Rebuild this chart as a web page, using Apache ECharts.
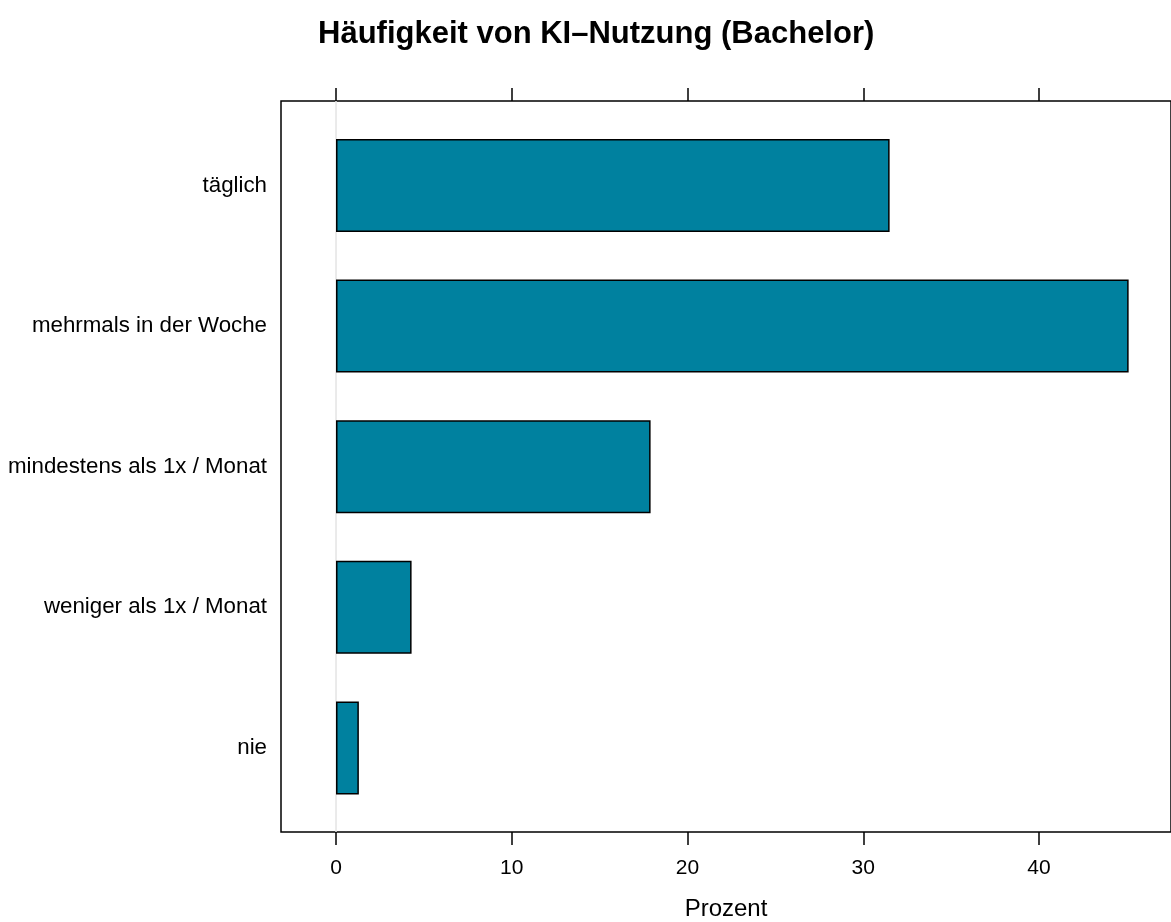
<!DOCTYPE html>
<html>
<head>
<meta charset="utf-8">
<script src="https://cdn.jsdelivr.net/npm/echarts@6/dist/echarts.min.js"></script>
<style>
  html, body { margin: 0; padding: 0; background: #fff; }
  #chart { width: 1171px; height: 922px; }
</style>
</head>
<body>
<div id="chart"></div>
<script>
// Häufigkeit von KI-Nutzung (Bachelor), Angaben in Prozent
const categories = ['täglich', 'mehrmals in der Woche', 'mindestens als 1x / Monat', 'weniger als 1x / Monat', 'nie']
const prozent = [31.5, 45.1, 17.9, 4.3, 1.3]
const xTicks = [0, 10, 20, 30, 40]
const xMin = -3.13
const xMax = 47.51

const font = 'Liberation Sans, Arial, Helvetica, sans-serif'
const chart = echarts.init(document.getElementById('chart'), null, { renderer: 'canvas' })

const option = {
  animation: false,
  backgroundColor: '#fff',
  title: {
    text: 'Häufigkeit von KI–Nutzung (Bachelor)',
    left: 313,
    top: 14,
    textStyle: { fontFamily: font, fontSize: 31, fontWeight: 'bold', color: '#000' }
  },
  grid: [
    // Rahmen mit Achsen
    { left: 281, right: 0, top: 101, height: 731, outerBoundsMode: 'none', show: true, borderColor: '#000', borderWidth: 1.5, backgroundColor: 'transparent' },
    // Balkenbereich (Kategorien 0.4 .. 5.6)
    { left: 281, right: 0, top: 115.2, height: 703, outerBoundsMode: 'none' }
  ],
  xAxis: [
    {
      gridIndex: 0, type: 'value', position: 'bottom', min: xMin, max: xMax,
      axisLine: { show: false },
      splitLine: { show: false },
      axisTick: { show: true, inside: false, length: 13, customValues: xTicks, lineStyle: { color: '#000', width: 1.5 } },
      axisLabel: { show: true, customValues: xTicks, margin: 26, color: '#000', fontFamily: font, fontSize: 21 },
      name: 'Prozent', nameLocation: 'middle', nameGap: 65,
      nameTextStyle: { fontFamily: font, fontSize: 24, color: '#000', verticalAlign: 'top' }
    },
    {
      gridIndex: 0, type: 'value', position: 'top', min: xMin, max: xMax,
      axisLine: { show: false },
      splitLine: { show: false },
      axisTick: { show: true, inside: false, length: 13, customValues: xTicks, lineStyle: { color: '#000', width: 1.5 } },
      axisLabel: { show: false }
    },
    {
      gridIndex: 1, type: 'value', min: xMin, max: xMax, show: false
    }
  ],
  yAxis: [
    { gridIndex: 0, type: 'value', min: 0, max: 1, show: false },
    {
      gridIndex: 1, type: 'category', data: categories, inverse: true,
      axisLine: { show: false },
      axisTick: { show: false },
      splitLine: { show: false },
      axisLabel: { margin: 14, color: '#000', fontFamily: font, fontSize: 22.3, padding: [6, 0, 0, 0] }
    }
  ],
  series: [
    {
      // Referenzlinie bei 0
      type: 'line', xAxisIndex: 0, yAxisIndex: 0,
      data: [[0, 0], [0, 1]],
      symbol: 'none', silent: true,
      lineStyle: { color: '#e4e4e4', width: 1.5 },
      z: 1
    },
    {
      type: 'bar', xAxisIndex: 2, yAxisIndex: 1,
      data: prozent,
      barWidth: 93,
      itemStyle: { color: '#00819F', borderColor: '#000', borderWidth: 1.5 },
      z: 3
    }
  ]
}

chart.setOption(option)
</script>
</body>
</html>
